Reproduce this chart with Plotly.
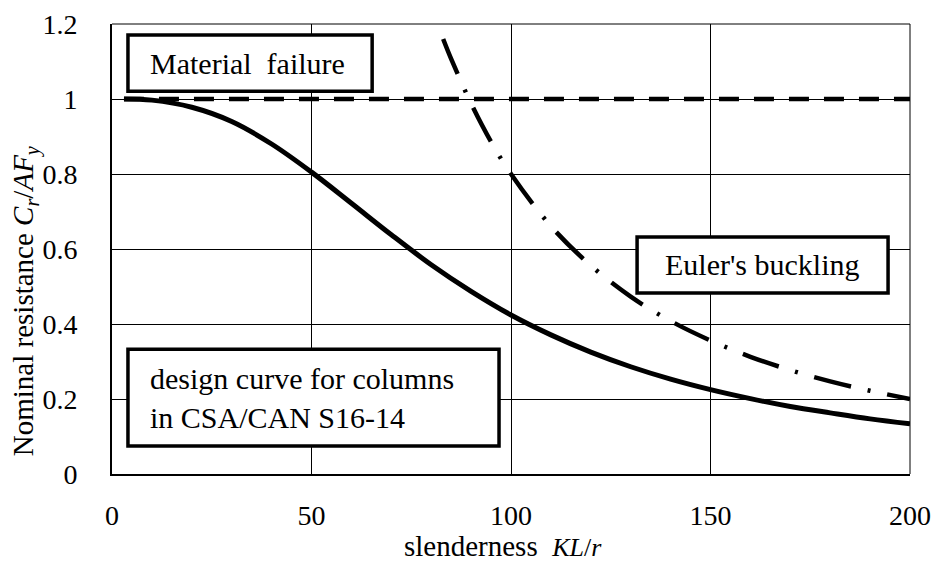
import plotly.graph_objects as go

# Slenderness KL/r and normalised resistance Cr/AFy
design_x = [3, 10, 20, 30, 40, 50, 60, 70, 80, 90, 100, 110, 120, 130, 140,
            150, 160, 170, 180, 190, 200]
design_y = [1.0, 0.997, 0.978, 0.94, 0.88, 0.805, 0.722, 0.638, 0.558, 0.487,
            0.424, 0.371, 0.325, 0.286, 0.253, 0.225, 0.201, 0.180, 0.163,
            0.147, 0.134]

euler_x = [83, 85, 90, 95, 100, 110, 120, 130, 140, 150, 160, 170, 180, 190, 200]
euler_y = [1.16, 1.107, 0.988, 0.886, 0.80, 0.661, 0.556, 0.473, 0.408, 0.356,
           0.3125, 0.277, 0.247, 0.222, 0.20]

material_x = [3, 200]
material_y = [1.0, 1.0]

x_ticks = [0, 50, 100, 150, 200]
y_ticks = [0, 0.2, 0.4, 0.6, 0.8, 1.0, 1.2]
y_tick_text = ["0", "0.2", "0.4", "0.6", "0.8", "1", "1.2"]

FONT = "Times New Roman, Liberation Serif, serif"
FS = 30
TICK_FS = 28

fig = go.Figure()
fig.add_trace(go.Scatter(x=material_x, y=material_y, mode="lines",
                         line=dict(color="black", width=4.5, dash="20px,15px"),
                         showlegend=False))
fig.add_trace(go.Scatter(x=euler_x, y=euler_y, mode="lines",
                         line=dict(color="black", width=4.5, shape="spline",
                                   dash="38px,17px,3px,17px"),
                         showlegend=False))
fig.add_trace(go.Scatter(x=design_x, y=design_y, mode="lines",
                         line=dict(color="black", width=5, shape="spline"),
                         showlegend=False))

# Framed labels (white boxes drawn above the grid)
boxes = [
    dict(x0=4.0, x1=65.2, y0=1.021, y1=1.171),
    dict(x0=131.6, x1=194.5, y0=0.483, y1=0.632),
    dict(x0=4.0, x1=97.0, y0=0.075, y1=0.333),
]
for b in boxes:
    fig.add_shape(type="rect", xref="x", yref="y", layer="above",
                  line=dict(color="black", width=3.5), fillcolor="white", **b)

fig.add_annotation(x=9, y=1.096, xref="x", yref="y", text="Material  failure",
                   showarrow=False, xanchor="left", yanchor="middle",
                   font=dict(family=FONT, size=FS, color="black"))
fig.add_annotation(x=163, y=0.5575, xref="x", yref="y", text="Euler's buckling",
                   showarrow=False, xanchor="center", yanchor="middle",
                   font=dict(family=FONT, size=FS, color="black"))
fig.add_annotation(x=9, y=0.204, xref="x", yref="y",
                   text="design curve for columns<br>in CSA/CAN S16-14",
                   showarrow=False, xanchor="left", yanchor="middle", align="left",
                   font=dict(family=FONT, size=FS, color="black"))

# Axis titles
fig.add_annotation(x=-0.109, y=0.384, xref="paper", yref="paper",
                   text="Nominal resistance <i>C</i><sub><i>r</i></sub>/<i>AF</i><sub><i>y</i></sub>",
                   textangle=-90, showarrow=False, xanchor="center", yanchor="middle",
                   font=dict(family=FONT, size=29, color="black"))
fig.add_annotation(x=0.49, y=-0.16, xref="paper", yref="paper",
                   text="slenderness  <i><span style='font-size:26px'>KL</span></i><span style='font-size:26px'>/</span><i><span style='font-size:26px'>r</span></i>",
                   showarrow=False, xanchor="center", yanchor="middle",
                   font=dict(family=FONT, size=29, color="black"))

fig.update_xaxes(range=[0, 200], tickvals=x_ticks, showgrid=True,
                 gridcolor="black", gridwidth=1, zeroline=False,
                 showline=True, linecolor="black", linewidth=2, mirror=False,
                 ticks="", ticklabelstandoff=15, automargin=False,
                 tickfont=dict(family=FONT, size=TICK_FS, color="black"))
fig.update_yaxes(range=[0, 1.2], tickvals=y_ticks, ticktext=y_tick_text,
                 showgrid=True, gridcolor="black", gridwidth=1, zeroline=False,
                 showline=True, linecolor="black", linewidth=2, mirror=False,
                 ticks="", ticklabelstandoff=27, automargin=False,
                 tickfont=dict(family=FONT, size=TICK_FS, color="black"))

# Thin frame on the top and right sides
fig.add_shape(type="line", xref="paper", yref="paper", x0=0, x1=1, y0=1, y1=1,
              line=dict(color="black", width=1))
fig.add_shape(type="line", xref="paper", yref="paper", x0=1, x1=1, y0=0, y1=1,
              line=dict(color="black", width=1))

fig.update_layout(width=935, height=563,
                  margin=dict(l=112, r=25, t=24, b=89),
                  plot_bgcolor="white", paper_bgcolor="white",
                  font=dict(family=FONT, size=FS, color="black"))

fig.write_html("out.html")
